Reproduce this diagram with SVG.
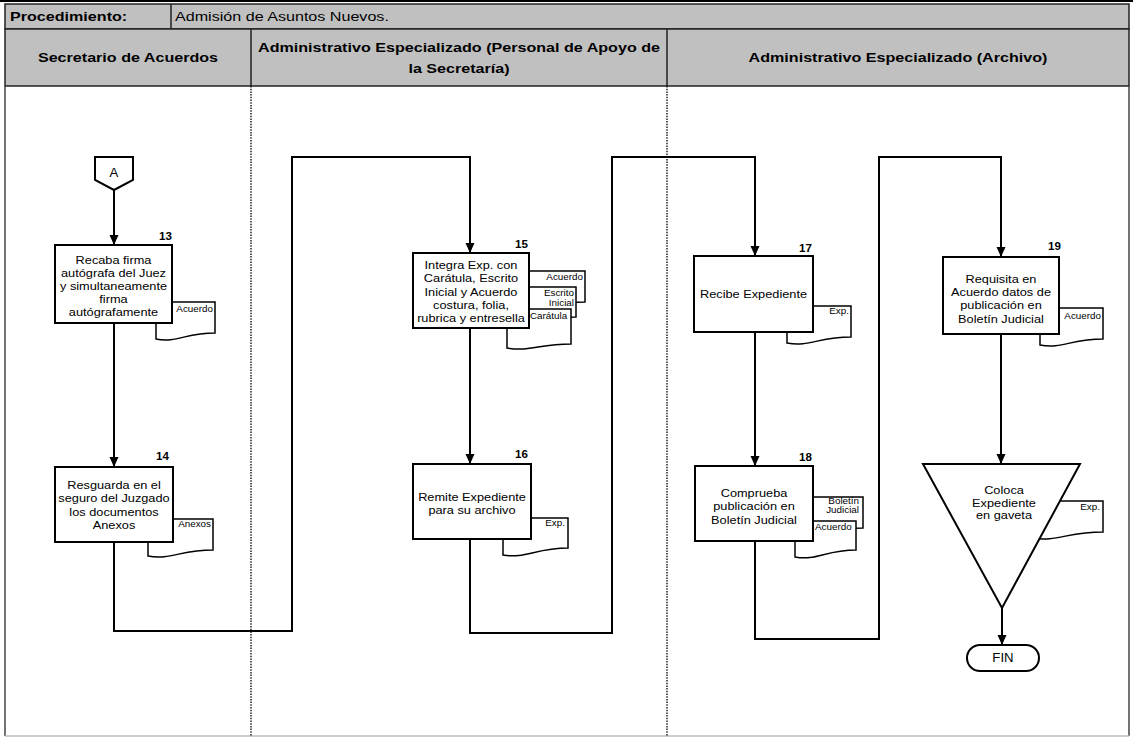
<svg xmlns="http://www.w3.org/2000/svg" width="1133" height="738" viewBox="0 0 1133 738">
<defs>
<style>
.hbg{fill:#c0c0c0;stroke:#222;stroke-width:1.5}
.box{fill:#fff;stroke:#000;stroke-width:2}
.doc{fill:#fff;stroke:#000;stroke-width:1.5}
.conn{fill:none;stroke:#000;stroke-width:2}
.lane{stroke:#000;stroke-width:1.3;stroke-dasharray:1.5,1.2}
text{font-family:"Liberation Sans",Arial,sans-serif;fill:#000}
.t{font-size:11px;text-anchor:middle}
.num{font-size:10px;font-weight:bold;text-anchor:end}
.lbl{font-size:8.5px}
.end{text-anchor:end}
.hdr{font-size:13px;font-weight:bold}
.hv{font-size:13px}
.mid{text-anchor:middle}
</style>
<marker id="ah" viewBox="0 0 10 10" refX="10" refY="5" markerWidth="10" markerHeight="10" markerUnits="userSpaceOnUse" orient="auto"><path d="M0,0.5 L10,5 L0,9.5 Z" fill="#000"/></marker>
</defs>
<rect width="1133" height="738" fill="#fff"/>
<line x1="0" y1="1" x2="1133" y2="1" stroke="#000" stroke-width="2"/>
<g id="header">
<rect class="hbg" x="5" y="4" width="1124" height="25"/>
<line x1="171" y1="4" x2="171" y2="29" stroke="#222" stroke-width="1.5"/>
<rect class="hbg" x="5" y="29" width="1124" height="57"/>
<line x1="251" y1="29" x2="251" y2="86" stroke="#222" stroke-width="1.5"/>
<line x1="667" y1="29" x2="667" y2="86" stroke="#222" stroke-width="1.5"/>
<text class="hdr" transform="translate(10,0) scale(1.24,1)" x="0" y="21">Procedimiento:</text>
<text class="hv" transform="translate(175,0) scale(1.24,1)" x="0" y="21">Admisión de Asuntos Nuevos.</text>
<text class="hdr mid" transform="translate(128,0) scale(1.24,1)" x="0" y="62">Secretario de Acuerdos</text>
<text class="hdr mid" transform="translate(459,0) scale(1.24,1)" x="0" y="52">Administrativo Especializado (Personal de Apoyo de<tspan x="0" dy="21">la Secretaría)</tspan></text>
<text class="hdr mid" transform="translate(898,0) scale(1.24,1)" x="0" y="62">Administrativo Especializado (Archivo)</text>
</g>
<g id="frame">
<line x1="5" y1="86" x2="5" y2="736" stroke="#444" stroke-width="1.5"/>
<line x1="1129" y1="86" x2="1129" y2="736" stroke="#444" stroke-width="1.5"/>
<line x1="5" y1="736" x2="1129" y2="736" stroke="#bbb" stroke-width="1.5"/>
<line class="lane" x1="251" y1="86" x2="251" y2="736"/>
<line class="lane" x1="667" y1="86" x2="667" y2="736"/>
</g>
<g id="connectors">
<path class="conn" d="M114,190 V245" marker-end="url(#ah)"/>
<path class="conn" d="M114,323 V467" marker-end="url(#ah)"/>
<path class="conn" d="M114,542 V631 H292 V157 H470 V253" marker-end="url(#ah)"/>
<path class="conn" d="M470,328 V464" marker-end="url(#ah)"/>
<path class="conn" d="M470,539 V633 H612 V157 H755 V256" marker-end="url(#ah)"/>
<path class="conn" d="M755,332 V466" marker-end="url(#ah)"/>
<path class="conn" d="M755,541 V639 H879 V157 H1001 V257" marker-end="url(#ah)"/>
<path class="conn" d="M1001,334 V464" marker-end="url(#ah)"/>
<path class="conn" d="M1002,608 V645" marker-end="url(#ah)"/>
</g>
<g id="nA">
<path class="box" d="M95,157 H133 V180 L114,190 L95,180 Z"/>
<text class="t" style="font-size:12px" transform="translate(114,0) scale(1.1,1)" x="0" y="177">A</text>
</g>
<g id="n13">
<path class="doc" d="M156,302 H215 V333 C185.5,333 176.7,343 156,339 Z"/>
<rect class="box" x="55" y="245" width="117" height="78"/>
<text class="num" transform="translate(172,0) scale(1.16,1)" x="0" y="240">13</text>
<text class="t" transform="translate(113.5,0) scale(1.16,1)" x="0" y="264.5">Recaba firma<tspan x="0" dy="13">autógrafa del Juez</tspan><tspan x="0" dy="13">y simultaneamente</tspan><tspan x="0" dy="13">firma</tspan><tspan x="0" dy="13">autógrafamente</tspan></text>
<text class="lbl end" transform="translate(213,0) scale(1.16,1)" x="0" y="312">Acuerdo</text>
</g>
<g id="n14">
<path class="doc" d="M148,519 H213 V550 C180.5,550 170.8,560 148,556 Z"/>
<rect class="box" x="55" y="467" width="118" height="75"/>
<text class="num" transform="translate(169,0) scale(1.16,1)" x="0" y="460">14</text>
<text class="t" transform="translate(114,0) scale(1.16,1)" x="0" y="489">Resguarda  en el<tspan x="0" dy="13.3">seguro del Juzgado</tspan><tspan x="0" dy="13.3">los documentos</tspan><tspan x="0" dy="13.3">Anexos</tspan></text>
<text class="lbl end" transform="translate(211,0) scale(1.16,1)" x="0" y="527">Anexos</text>
</g>
<g id="n15">
<path class="doc" d="M520,271 H585 V302 C552.5,302 542.8,312 520,308 Z"/>
<path class="doc" d="M513,287 H576 V317 C544.5,317 535,327 513,323 Z"/>
<path class="doc" d="M507,309 H571 V344 C539,344 529.4,352 507,348 Z"/>
<rect class="box" x="413" y="253" width="116" height="75"/>
<text class="num" transform="translate(528,0) scale(1.16,1)" x="0" y="248">15</text>
<text class="t" transform="translate(471,0) scale(1.16,1)" x="0" y="269">Integra Exp. con<tspan x="0" dy="13.3">Carátula, Escrito</tspan><tspan x="0" dy="13.3">Inicial y Acuerdo</tspan><tspan x="0" dy="13.3">costura, folia,</tspan><tspan x="0" dy="13.3">rubrica y entresella</tspan></text>
<text class="lbl end" transform="translate(583,0) scale(1.16,1)" x="0" y="280">Acuerdo</text>
<text class="lbl end" transform="translate(574,0) scale(1.16,1)" x="0" y="296">Escrito<tspan x="0" dy="10">Inicial</tspan></text>
<text class="lbl" transform="translate(530,0) scale(1.16,1)" x="0" y="319">Carátula</text>
</g>
<g id="n16">
<path class="doc" d="M503,518 H568 V548 C535.5,548 525.8,559 503,555 Z"/>
<rect class="box" x="413" y="464" width="118" height="75"/>
<text class="num" transform="translate(528,0) scale(1.16,1)" x="0" y="458">16</text>
<text class="t" transform="translate(472,0) scale(1.16,1)" x="0" y="501">Remite Expediente<tspan x="0" dy="13">para su archivo</tspan></text>
<text class="lbl end" transform="translate(565,0) scale(1.16,1)" x="0" y="526">Exp.</text>
</g>
<g id="n17">
<path class="doc" d="M787,306 H851 V337 C819,337 809.4,347 787,343 Z"/>
<rect class="box" x="694" y="256" width="119" height="76"/>
<text class="num" transform="translate(812,0) scale(1.16,1)" x="0" y="252">17</text>
<text class="t" transform="translate(753.5,0) scale(1.16,1)" x="0" y="298">Recibe Expediente</text>
<text class="lbl end" transform="translate(849,0) scale(1.16,1)" x="0" y="314">Exp.</text>
</g>
<g id="n18">
<path class="doc" d="M800,497 H863 V528 C831.5,528 822,538 800,534 Z"/>
<path class="doc" d="M795,521 H856 V550 C825.5,550 816.4,561 795,557 Z"/>
<rect class="box" x="695" y="466" width="118" height="75"/>
<text class="num" transform="translate(812,0) scale(1.16,1)" x="0" y="461">18</text>
<text class="t" transform="translate(754,0) scale(1.16,1)" x="0" y="497">Comprueba<tspan x="0" dy="13.5">publicación en</tspan><tspan x="0" dy="13.5">Boletín  Judicial</tspan></text>
<text class="lbl end" transform="translate(859,0) scale(1.16,1)" x="0" y="504">Boletín<tspan x="0" dy="9.5">Judicial</tspan></text>
<text class="lbl" transform="translate(815,0) scale(1.16,1)" x="0" y="530">Acuerdo</text>
</g>
<g id="n19">
<path class="doc" d="M1040,308 H1103 V339 C1071.5,339 1062,349 1040,345 Z"/>
<rect class="box" x="943" y="257" width="116" height="77"/>
<text class="num" transform="translate(1061,0) scale(1.16,1)" x="0" y="250">19</text>
<text class="t" transform="translate(1001,0) scale(1.16,1)" x="0" y="283">Requisita  en<tspan x="0" dy="13.2">Acuerdo datos  de</tspan><tspan x="0" dy="13.2">publicación en</tspan><tspan x="0" dy="13.2">Boletín  Judicial</tspan></text>
<text class="lbl end" transform="translate(1101,0) scale(1.16,1)" x="0" y="319">Acuerdo</text>
</g>
<g id="n20">
<path class="doc" d="M1032,501 H1103 V532 C1067.5,532 1056.9,542 1032,538 Z"/>
<path class="box" d="M923,464 H1080 L1002,608 Z"/>
<text class="t" transform="translate(1004,0) scale(1.16,1)" x="0" y="494">Coloca<tspan x="0" dy="12.7">Expediente</tspan><tspan x="0" dy="12.7">en gaveta</tspan></text>
<text class="lbl end" transform="translate(1100,0) scale(1.16,1)" x="0" y="510">Exp.</text>
</g>
<g id="nFIN">
<rect class="box" x="967" y="645" width="72" height="26" rx="13" ry="13"/>
<text class="t" style="font-size:12px" transform="translate(1003,0) scale(1.1,1)" x="0" y="662">FIN</text>
</g>
</svg>
